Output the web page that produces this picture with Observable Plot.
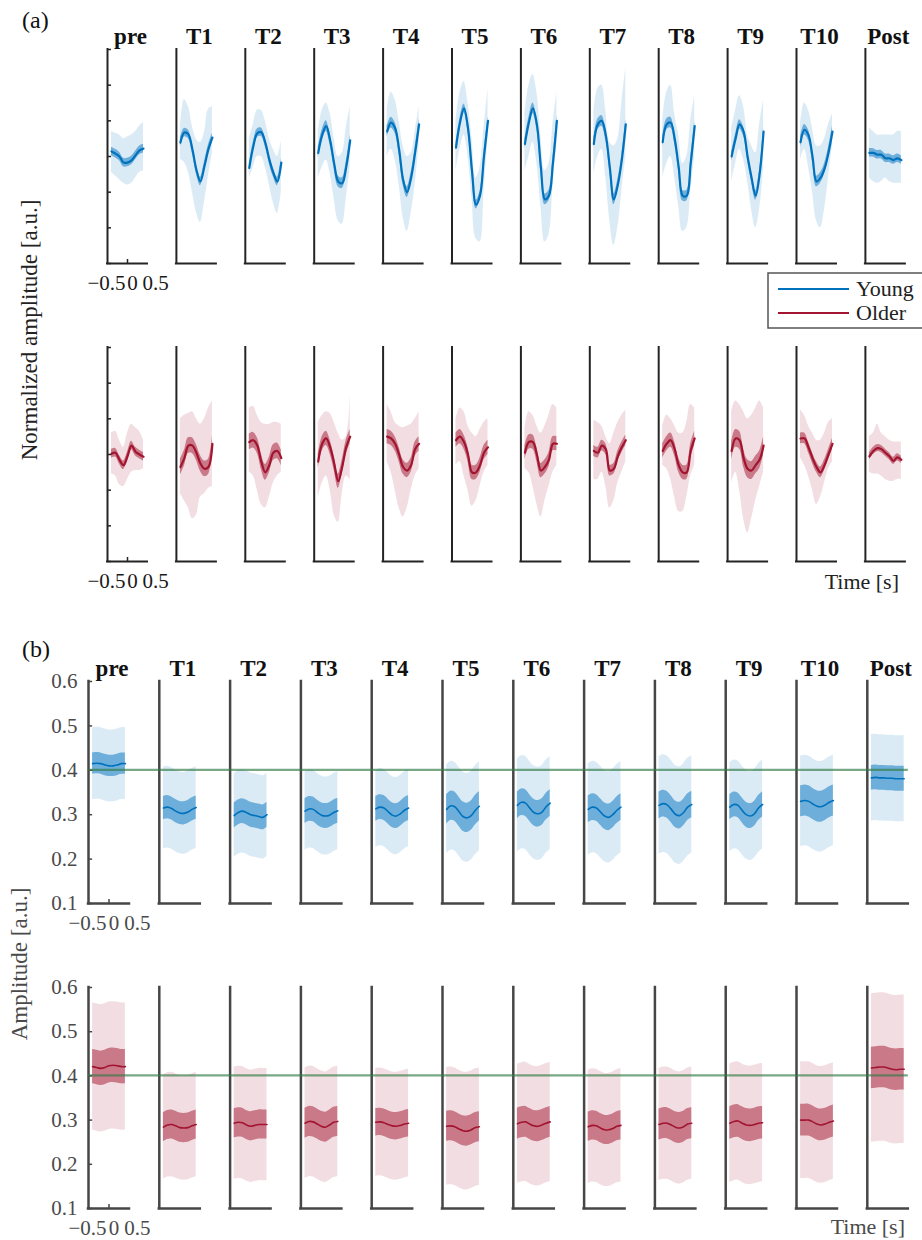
<!DOCTYPE html>
<html>
<head>
<meta charset="utf-8">
<script src="https://cdn.jsdelivr.net/npm/d3@7"></script>
<script src="https://cdn.jsdelivr.net/npm/@observablehq/plot@0.6"></script>
<style>
  body { margin: 0; background: #fff; }
  #fig { position: relative; width: 922px; height: 1240px; overflow: hidden;
         font-family: "Liberation Serif", "DejaVu Serif", serif; }
  #fig text { font-family: "Liberation Serif", "DejaVu Serif", serif; }
</style>
</head>
<body>
<div id="fig"></div>
<script>
// ---------------- data ----------------
const conditions = ["pre", "T1", "T2", "T3", "T4", "T5", "T6", "T7", "T8", "T9", "T10", "Post"];
const times = [-0.4, -0.3, -0.2, -0.1, 0, 0.1, 0.2, 0.3, 0.4];
const xTicks = [-0.5, 0, 0.5];
const xTickLabels = ["\u22120.5", "0", "0.5"];
const normTicks = [-3, -2, -1, 0, 1, 2, 3];
const ampTicks = [0.1, 0.2, 0.3, 0.4, 0.5, 0.6];
const ampTickLabels = ["0.1", "0.2", "0.3", "0.4", "0.5", "0.6"];
const groups = ["Young", "Older"];
const referenceLevel = 0.4;

// (a) normalized waveform, Young
const normMeanYoung = [
  [0.14, 0.08, 0.0, -0.17, -0.17, -0.11, 0.03, 0.17, 0.22],
  [0.39, 0.67, 0.62, 0.2, -0.37, -0.7, -0.28, 0.2, 0.53],
  [-0.32, 0.28, 0.65, 0.68, 0.39, -0.08, -0.45, -0.7, -0.17],
  [0.1, 0.6, 0.85, 0.45, -0.2, -0.7, -0.75, -0.3, 0.45],
  [0.7, 0.95, 0.8, 0.2, -0.65, -1.0, -0.6, 0.1, 0.9],
  [0.25, 0.95, 1.35, 0.8, -0.4, -1.35, -1.1, 0.0, 1.0],
  [0.35, 0.95, 1.35, 0.9, -0.3, -1.2, -1.1, -0.2, 1.0],
  [0.35, 0.9, 1.0, 0.6, -0.3, -1.2, -0.8, -0.1, 0.9],
  [0.4, 0.9, 0.95, 0.5, -0.3, -1.1, -1.1, -0.2, 0.85],
  [0.0, 0.5, 0.9, 0.7, 0.0, -0.6, -1.1, -0.5, 0.7],
  [0.4, 0.75, 0.6, 0.0, -0.7, -0.6, -0.35, 0.1, 0.7],
  [0.1, 0.1, 0.05, 0.05, -0.05, -0.05, -0.1, -0.05, -0.1]
];
const normSemYoung = [0.12, 0.12, 0.12, 0.15, 0.15, 0.12, 0.15, 0.15, 0.15, 0.13, 0.15, 0.12];
const normSdHiYoung = [
  [0.7, 0.65, 0.6, 0.5, 0.55, 0.6, 0.7, 0.85, 0.95],
  [0.84, 1.6, 1.4, 0.84, 0.48, 0.39, 0.67, 1.32, 1.4],
  [0.5, 0.9, 1.3, 1.3, 1.0, 0.5, 0.2, 0.0, 0.45],
  [0.7, 1.3, 1.5, 1.2, 0.5, 0.0, 0.1, 0.8, 1.4],
  [1.3, 1.8, 1.6, 1.0, 0.3, 0.0, 0.1, 0.7, 1.4],
  [1.0, 1.8, 2.1, 1.5, 0.5, -0.6, -0.3, 0.8, 1.9],
  [1.2, 2.0, 2.3, 1.8, 0.6, -0.4, -0.2, 0.9, 1.8],
  [1.2, 1.9, 2.0, 1.3, 0.4, 0.3, 0.5, 1.5, 2.5],
  [1.0, 1.8, 2.0, 1.2, 0.6, -0.2, 0.0, 1.0, 1.7],
  [0.8, 1.3, 1.7, 1.4, 0.6, 0.3, 0.1, 0.9, 1.6],
  [0.9, 1.5, 1.3, 0.8, 0.3, 0.3, 0.5, 0.9, 1.2],
  [0.8, 0.7, 0.6, 0.6, 0.6, 0.6, 0.6, 0.7, 0.7]
];
const normSdLoYoung = [
  [-0.45, -0.55, -0.65, -0.75, -0.8, -0.75, -0.6, -0.45, -0.4],
  [-0.08, -0.17, -0.45, -1.0, -1.57, -1.85, -1.3, -0.56, 0.1],
  [-0.6, -0.3, 0.0, 0.0, -0.3, -0.8, -1.3, -1.6, -1.0],
  [-0.6, -0.3, -0.1, -0.5, -1.2, -1.8, -1.9, -1.2, -0.3],
  [0.0, 0.2, -0.1, -0.8, -1.7, -2.1, -1.6, -0.8, 0.3],
  [-0.4, 0.2, 0.6, 0.0, -1.2, -2.3, -2.4, -1.0, 0.5],
  [-0.4, 0.0, 0.4, -0.2, -1.4, -2.4, -2.2, -0.9, 0.4],
  [-0.5, 0.0, 0.2, -0.6, -1.8, -2.5, -2.0, -1.0, 0.0],
  [-0.6, -0.2, 0.0, -0.6, -1.4, -2.1, -2.0, -1.0, 0.0],
  [-0.7, -0.2, 0.2, -0.1, -0.7, -1.5, -2.0, -1.5, -0.3],
  [-0.1, 0.2, -0.3, -1.0, -1.8, -2.0, -1.5, -0.6, 0.3],
  [-0.6, -0.7, -0.75, -0.7, -0.6, -0.7, -0.75, -0.75, -0.75]
];

// (a) normalized waveform, Older
const normMeanOlder = [
  [0.02, 0.05, -0.15, -0.3, -0.05, 0.25, 0.08, 0.0, -0.06],
  [-0.35, -0.1, 0.25, 0.25, 0.05, -0.25, -0.4, -0.35, 0.3],
  [0.35, 0.4, 0.25, -0.2, -0.5, -0.3, 0.05, 0.1, -0.1],
  [-0.2, 0.3, 0.45, 0.2, -0.25, -0.75, -0.35, 0.2, 0.5],
  [0.5, 0.45, 0.3, 0.0, -0.35, -0.45, -0.3, 0.15, 0.3],
  [0.4, 0.5, 0.35, 0.0, -0.5, -0.5, -0.3, 0.05, 0.2],
  [0.05, 0.35, 0.35, 0.0, -0.45, -0.35, -0.15, 0.3, 0.3],
  [0.1, 0.05, 0.25, 0.15, -0.45, -0.4, -0.05, 0.2, 0.4],
  [0.1, 0.3, 0.4, 0.15, -0.3, -0.5, -0.5, 0.1, 0.45],
  [0.1, 0.45, 0.4, -0.1, -0.4, -0.45, -0.3, -0.15, 0.25],
  [0.45, 0.45, 0.2, -0.1, -0.35, -0.5, -0.3, 0.0, 0.3],
  [-0.05, 0.1, 0.18, 0.15, 0.05, -0.05, -0.18, -0.08, -0.15]
];
const normSemOlder = [0.12, 0.22, 0.22, 0.2, 0.2, 0.2, 0.2, 0.15, 0.2, 0.25, 0.15, 0.1];
const normSdHiOlder = [
  [0.6, 0.65, 0.4, 0.2, 0.6, 0.85, 0.75, 0.65, 0.4],
  [1.0, 1.1, 1.15, 1.2, 1.0, 0.85, 1.0, 1.3, 1.5],
  [1.3, 1.35, 1.1, 0.9, 0.85, 0.85, 0.9, 0.9, 0.85],
  [0.9, 1.1, 1.2, 1.15, 0.9, 0.6, 0.4, 0.5, 1.7],
  [1.4, 1.2, 0.9, 0.8, 0.75, 0.8, 0.85, 1.0, 1.2],
  [1.0, 1.3, 1.2, 0.8, 0.6, 0.5, 0.7, 0.9, 1.0],
  [0.7, 1.2, 1.1, 0.8, 0.6, 0.8, 1.1, 1.4, 1.3],
  [0.95, 0.9, 0.8, 0.5, 0.3, 0.6, 0.9, 1.1, 1.25],
  [0.8, 1.1, 1.0, 0.8, 0.6, 0.6, 0.9, 1.4, 1.3],
  [1.2, 1.5, 1.4, 1.2, 1.0, 1.1, 1.3, 1.5, 1.3],
  [1.25, 1.1, 0.8, 0.6, 0.4, 0.4, 0.6, 0.9, 1.0],
  [0.5, 0.6, 0.85, 0.6, 0.5, 0.4, 0.35, 0.35, 0.35]
];
const normSdLoOlder = [
  [-0.55, -0.6, -0.85, -0.9, -0.7, -0.5, -0.45, -0.45, -0.4],
  [-1.1, -1.3, -1.5, -1.8, -1.7, -1.2, -1.1, -0.95, -0.9],
  [-0.5, -0.6, -1.0, -1.4, -1.5, -1.2, -0.8, -0.6, -0.5],
  [-1.2, -0.8, -0.6, -1.0, -1.7, -1.9, -1.1, -0.6, -0.7],
  [-0.2, -0.5, -1.0, -1.5, -1.75, -1.5, -1.0, -0.6, -0.4],
  [-0.3, -0.2, -0.6, -1.0, -1.45, -1.3, -0.9, -0.5, -0.3],
  [-0.4, -0.5, -0.9, -1.4, -1.75, -1.3, -0.9, -0.5, -0.3],
  [-0.7, -0.7, -0.5, -0.9, -1.5, -1.3, -0.8, -0.5, -0.2],
  [-0.3, -0.4, -0.7, -1.2, -1.6, -1.6, -1.2, -0.6, -0.3],
  [-0.8, -0.5, -1.0, -1.8, -2.2, -1.8, -1.3, -0.9, -0.5],
  [-0.1, -0.3, -0.6, -1.0, -1.4, -1.2, -0.8, -0.4, -0.2],
  [-0.5, -0.55, -0.55, -0.6, -0.7, -0.75, -0.75, -0.7, -0.7]
];

// (b) amplitude, Young
const ampMeanYoung = [
  [0.415, 0.416, 0.415, 0.412, 0.410, 0.410, 0.412, 0.415, 0.415],
  [0.315, 0.317, 0.314, 0.308, 0.304, 0.303, 0.306, 0.312, 0.316],
  [0.298, 0.305, 0.308, 0.305, 0.300, 0.298, 0.296, 0.294, 0.300],
  [0.308, 0.313, 0.312, 0.305, 0.299, 0.297, 0.299, 0.305, 0.309],
  [0.313, 0.317, 0.315, 0.307, 0.299, 0.297, 0.302, 0.310, 0.315],
  [0.312, 0.320, 0.318, 0.307, 0.296, 0.293, 0.298, 0.310, 0.319],
  [0.321, 0.328, 0.326, 0.315, 0.305, 0.302, 0.306, 0.318, 0.326],
  [0.312, 0.317, 0.315, 0.306, 0.297, 0.294, 0.300, 0.310, 0.317],
  [0.321, 0.325, 0.322, 0.312, 0.301, 0.298, 0.305, 0.317, 0.323],
  [0.317, 0.323, 0.321, 0.310, 0.300, 0.297, 0.302, 0.315, 0.323],
  [0.330, 0.332, 0.330, 0.324, 0.319, 0.318, 0.322, 0.328, 0.332],
  [0.383, 0.384, 0.383, 0.383, 0.382, 0.382, 0.381, 0.381, 0.381]
];
const ampSemYoung = [0.024, 0.026, 0.028, 0.028, 0.028, 0.033, 0.030, 0.030, 0.030, 0.028, 0.035, 0.028];
const ampSdYoung = [0.081, 0.092, 0.094, 0.088, 0.087, 0.100, 0.105, 0.103, 0.110, 0.100, 0.102, 0.097];

// (b) amplitude, Older
const ampMeanOlder = [
  [0.421, 0.419, 0.417, 0.419, 0.423, 0.424, 0.423, 0.421, 0.421],
  [0.284, 0.289, 0.290, 0.287, 0.283, 0.282, 0.283, 0.287, 0.290],
  [0.293, 0.295, 0.294, 0.289, 0.286, 0.288, 0.290, 0.290, 0.290],
  [0.293, 0.297, 0.296, 0.291, 0.286, 0.284, 0.289, 0.295, 0.297],
  [0.295, 0.296, 0.294, 0.290, 0.287, 0.286, 0.288, 0.291, 0.293],
  [0.286, 0.287, 0.285, 0.280, 0.276, 0.275, 0.278, 0.283, 0.285],
  [0.292, 0.295, 0.296, 0.291, 0.287, 0.286, 0.289, 0.293, 0.296],
  [0.285, 0.288, 0.287, 0.282, 0.278, 0.278, 0.281, 0.286, 0.288],
  [0.290, 0.293, 0.293, 0.289, 0.284, 0.282, 0.285, 0.291, 0.293],
  [0.293, 0.297, 0.298, 0.293, 0.289, 0.288, 0.290, 0.293, 0.294],
  [0.300, 0.300, 0.300, 0.296, 0.291, 0.289, 0.291, 0.295, 0.298],
  [0.418, 0.419, 0.420, 0.420, 0.418, 0.415, 0.414, 0.415, 0.415]
];
const ampSemOlder = [0.039, 0.033, 0.033, 0.034, 0.031, 0.034, 0.035, 0.033, 0.035, 0.037, 0.036, 0.047];
const ampSdOlder = [0.144, 0.118, 0.127, 0.125, 0.122, 0.133, 0.135, 0.128, 0.127, 0.134, 0.132, 0.168];

// ---------------- styling ----------------
const colorYoung = "#0072BD";
const colorOlder = "#A2142F";
const xDomain = [-0.5, 0.5];
const FONT = "'Liberation Serif', 'DejaVu Serif', serif";
const xLabelNudge = [-1, 5, 8];

function rowsWithSd(means, sem, sdLo, sdHi) {
  return conditions.flatMap((c, i) => times.map((t, j) => ({
    cond: c, t, mean: means[i][j],
    semLo: means[i][j] - sem[i], semHi: means[i][j] + sem[i],
    sdLo: sdLo[i][j], sdHi: sdHi[i][j]
  })));
}
function rowsSymmetric(means, sem, sd) {
  return conditions.flatMap((c, i) => times.map((t, j) => ({
    cond: c, t, mean: means[i][j],
    semLo: means[i][j] - sem[i], semHi: means[i][j] + sem[i],
    sdLo: means[i][j] - sd[i], sdHi: means[i][j] + sd[i]
  })));
}

const fig = document.getElementById("fig");

function makeRow(cfg) {
  const {rows, color, yDomain, yTicks, yTickLabels, top, height, marginTop, marginBottom,
         marginLeft, marginRight, padInner, titles, axisColor, axisWidth, labelColor,
         lineWidth, refLine} = cfg;
  const frameH = height - marginTop - marginBottom;
  const tickLenY = 4 * (yDomain[1] - yDomain[0]) / frameH;
  const first = () => conditions[0];
  const curve = "catmull-rom";
  const marks = [
    Plot.areaY(rows, {fx: "cond", x: "t", y1: "sdLo", y2: "sdHi", fill: color, fillOpacity: 0.14, curve}),
    Plot.areaY(rows, {fx: "cond", x: "t", y1: "semLo", y2: "semHi", fill: color, fillOpacity: 0.5, curve}),
    Plot.lineY(rows, {fx: "cond", x: "t", y: "mean", stroke: color, strokeWidth: lineWidth, curve}),
    Plot.ruleX([xDomain[0]], {y1: yDomain[0], y2: yDomain[1], stroke: axisColor, strokeWidth: axisWidth, strokeLinecap: "square"}),
    Plot.ruleY([yDomain[0]], {x1: xDomain[0], x2: xDomain[1], stroke: axisColor, strokeWidth: axisWidth, strokeLinecap: "square"}),
    Plot.ruleY(yTicks, {fx: first, y: d => d, x1: xDomain[0], x2: xDomain[0] + 0.1, stroke: axisColor, strokeWidth: 1.5}),
    Plot.ruleX([0], {fx: first, x: d => d, y1: yDomain[0], y2: yDomain[0] + tickLenY, stroke: axisColor, strokeWidth: 1.5}),
    ...xTicks.map((v, i) => Plot.text([v], {
      fx: first, x: d => d, y: yDomain[0], text: () => xTickLabels[i],
      dy: 20, dx: xLabelNudge[i], fill: labelColor, fontSize: 21, fontFamily: FONT
    }))
  ];
  if (yTickLabels) {
    marks.push(Plot.text(yTicks, {
      fx: first, x: xDomain[0], y: d => d, text: (d, i) => yTickLabels[i],
      textAnchor: "end", dx: -11, fill: labelColor, fontSize: 21, fontFamily: FONT
    }));
  }
  if (titles) {
    marks.push(Plot.text(conditions, {
      fx: d => d, text: d => d, frameAnchor: "top", lineAnchor: "bottom",
      dy: -6, dx: 3, fontWeight: "bold", fontSize: 23, fill: "#111", fontFamily: FONT
    }));
  }
  const chart = Plot.plot({
    width: 922, height, marginTop, marginBottom, marginLeft, marginRight,
    style: {fontFamily: FONT, background: "transparent", overflow: "visible"},
    fx: {domain: conditions, paddingInner: padInner, paddingOuter: 0, round: false, axis: null, label: null},
    x: {domain: xDomain, axis: null},
    y: {domain: yDomain, axis: null},
    marks
  });
  chart.style.position = "absolute";
  chart.style.left = "0px";
  chart.style.top = top + "px";
  chart.style.maxWidth = "none";
  if (refLine !== undefined) {
    const fxS = chart.scale("fx"), yS = chart.scale("y");
    const x1 = fxS.apply(conditions[0]);
    const x2 = fxS.apply(conditions[conditions.length - 1]) + fxS.bandwidth;
    const yy = yS.apply(refLine);
    d3.select(chart).append("line")
      .attr("x1", x1).attr("x2", x2).attr("y1", yy).attr("y2", yy)
      .attr("stroke", "#2f7a45").attr("stroke-opacity", 0.65).attr("stroke-width", 2.2);
  }
  fig.appendChild(chart);
  return chart;
}

// panel (a)
makeRow({
  rows: rowsWithSd(normMeanYoung, normSemYoung, normSdLoYoung, normSdHiYoung),
  color: colorYoung, yDomain: [-3, 3], yTicks: normTicks, yTickLabels: null,
  top: 0, height: 300, marginTop: 49, marginBottom: 37, marginLeft: 107, marginRight: 17.1,
  padInner: 0.4194, titles: true, axisColor: "#242424", axisWidth: 2, labelColor: "#1a1a1a", lineWidth: 2.2
});
makeRow({
  rows: rowsWithSd(normMeanOlder, normSemOlder, normSdLoOlder, normSdHiOlder),
  color: colorOlder, yDomain: [-3, 3], yTicks: normTicks, yTickLabels: null,
  top: 300, height: 298, marginTop: 47, marginBottom: 37, marginLeft: 107, marginRight: 17.1,
  padInner: 0.4194, titles: false, axisColor: "#242424", axisWidth: 2, labelColor: "#1a1a1a", lineWidth: 2.2
});
// panel (b)
makeRow({
  rows: rowsSymmetric(ampMeanYoung, ampSemYoung, ampSdYoung),
  color: colorYoung, yDomain: [0.1, 0.6], yTicks: ampTicks, yTickLabels: ampTickLabels,
  top: 600, height: 340, marginTop: 81, marginBottom: 37, marginLeft: 88, marginRight: 14.2,
  padInner: 0.421, titles: true, axisColor: "#464646", axisWidth: 2.5, labelColor: "#4a4a4a", lineWidth: 1.6,
  refLine: referenceLevel
});
makeRow({
  rows: rowsSymmetric(ampMeanOlder, ampSemOlder, ampSdOlder),
  color: colorOlder, yDomain: [0.1, 0.6], yTicks: ampTicks, yTickLabels: ampTickLabels,
  top: 940, height: 300, marginTop: 47, marginBottom: 32, marginLeft: 88, marginRight: 14.2,
  padInner: 0.421, titles: false, axisColor: "#464646", axisWidth: 2.5, labelColor: "#4a4a4a", lineWidth: 1.6,
  refLine: referenceLevel
});

// ---------------- annotations ----------------
const ov = d3.select(fig).append("svg")
  .attr("width", 922).attr("height", 1240)
  .style("position", "absolute").style("left", "0px").style("top", "0px")
  .attr("font-family", FONT).style("pointer-events", "none");

function label(sel) { return sel.attr("font-family", FONT); }

label(ov.append("text")).attr("x", 22).attr("y", 28).attr("font-size", 24).attr("fill", "#111").text("(a)");
label(ov.append("text")).attr("x", 22).attr("y", 657).attr("font-size", 24).attr("fill", "#111").text("(b)");

label(ov.append("text")).attr("transform", "translate(37,330) rotate(-90)")
  .attr("text-anchor", "middle").attr("font-size", 23).attr("fill", "#222")
  .text("Normalized amplitude [a.u.]");
label(ov.append("text")).attr("transform", "translate(27,964) rotate(-90)")
  .attr("text-anchor", "middle").attr("font-size", 23).attr("fill", "#4a4a4a")
  .text("Amplitude [a.u.]");

label(ov.append("text")).attr("x", 899).attr("y", 589).attr("text-anchor", "end")
  .attr("font-size", 22).attr("fill", "#222").text("Time [s]");
label(ov.append("text")).attr("x", 905).attr("y", 1234).attr("text-anchor", "end")
  .attr("font-size", 22).attr("fill", "#4a4a4a").text("Time [s]");

// legend
const lg = ov.append("g");
lg.append("rect").attr("x", 768).attr("y", 273).attr("width", 170).attr("height", 55)
  .attr("fill", "#fff").attr("stroke", "#555").attr("stroke-width", 1.5);
const legendColors = [colorYoung, colorOlder];
groups.forEach((g, i) => {
  const yy = 289 + i * 24;
  lg.append("line").attr("x1", 778).attr("x2", 849).attr("y1", yy).attr("y2", yy)
    .attr("stroke", legendColors[i]).attr("stroke-width", 2);
  label(lg.append("text")).attr("x", 856).attr("y", yy + 7).attr("font-size", 22).attr("fill", "#222").text(g);
});
</script>
</body>
</html>
